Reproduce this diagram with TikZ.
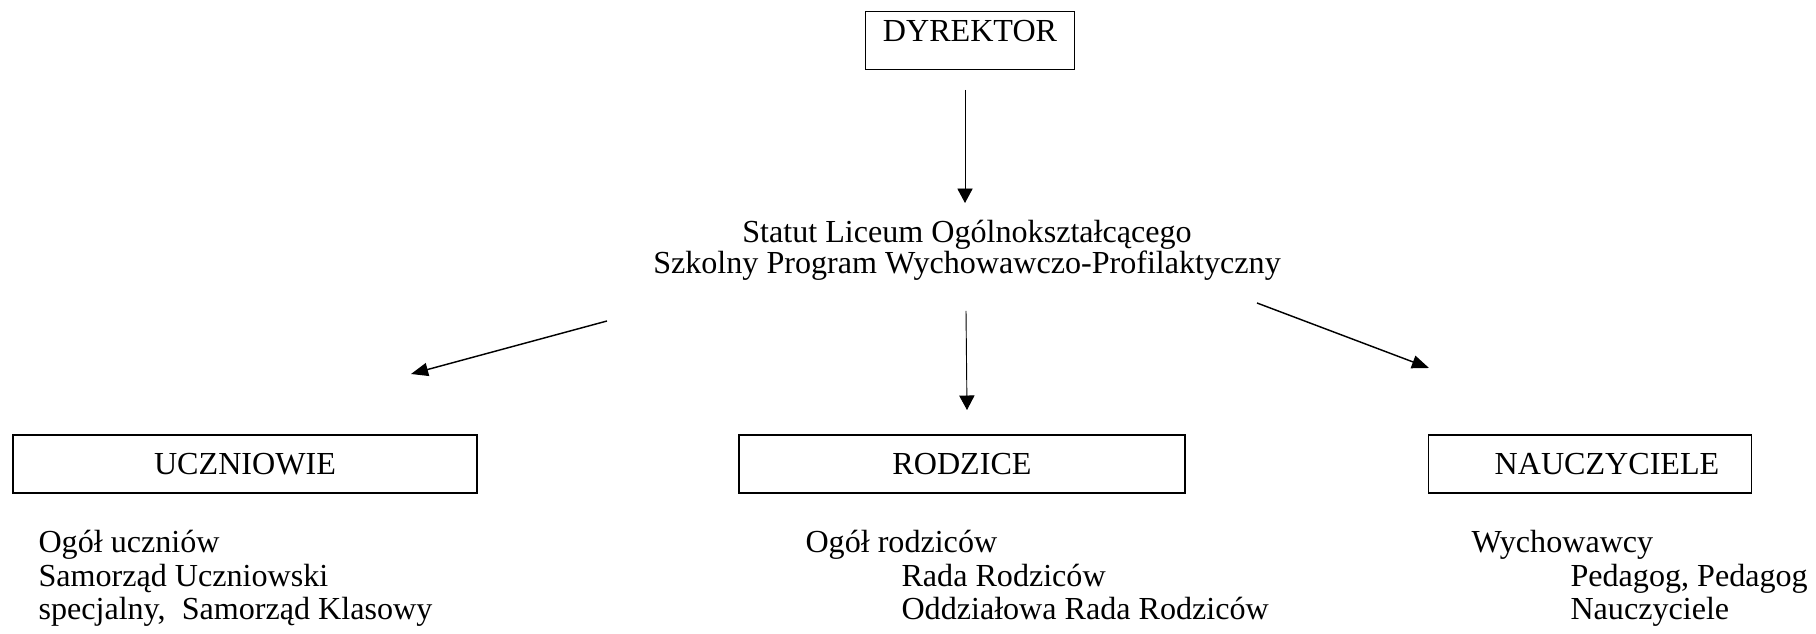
\documentclass[tikz,border=0pt]{standalone}
\usepackage{fontspec}
\setmainfont{Liberation Serif}
\usetikzlibrary{arrows.meta}
\begin{document}
\begin{tikzpicture}[x=0.38pt,y=-0.38pt,
  every node/.style={font=\fontsize{12.2}{12}\selectfont, inner sep=0pt},
  box/.style={draw, line width=0.5pt, minimum height=22pt},
  listline/.style={anchor=base west},
  arr/.style={-{Triangle[length=6.5pt,width=5pt]}, line width=0.55pt},
  thinarr/.style={-{Triangle[length=5.5pt,width=5.8pt]}, line width=0.35pt}]
\useasboundingbox (0,0) rectangle (1816,634);
% boxes
\node[box, anchor=base, minimum width=79.4pt, text height=11.4pt, text depth=10.3pt] (dyr) at (970,42) {DYREKTOR};
\node[box, minimum width=176.3pt] (ucz) at (245,464) {UCZNIOWIE};
\node[box, minimum width=169.5pt] (rodz) at (962,464) {RODZICE};
\node[box, minimum width=122.7pt] (naucz) at (1590,464) {\hspace*{12.9pt}NAUCZYCIELE};
% central text
\node[anchor=base] (stat1) at (967,243) {Statut Liceum Ogólnokształcącego};
\node[anchor=base] (stat2) at (967,274) {Szkolny Program Wychowawczo-Profilaktyczny};
% lists
\node[listline] (u1) at (38,553) {Ogół uczniów};
\node[listline] (u2) at (38,586) {Samorząd Uczniowski};
\node[listline] (u3) at (38,619) {specjalny,\ \ Samorząd Klasowy};
\node[listline] (r1) at (805,553) {Ogół rodziców};
\node[listline] (r2) at (901,586) {Rada Rodziców};
\node[listline] (r3) at (901,619) {Oddziałowa Rada Rodziców};
\node[listline] (n1) at (1471,553) {Wychowawcy};
\node[listline] (n2) at (1570,586) {Pedagog, Pedagog};
\node[listline] (n3) at (1570,619) {Nauczyciele};
% arrow end points
\coordinate (a1s) at (965,90);  \coordinate (a1e) at (965,203);
\coordinate (a2s) at (607,321); \coordinate (a2e) at (411,374);
\coordinate (a3s) at (966,311); \coordinate (a3e) at (967,410);
\coordinate (a4s) at (1257,303); \coordinate (a4e) at (1429,368);
\draw[thinarr] (a1s) -- (a1e);
\draw[arr] (a2s) -- (a2e);
\draw[thinarr] (a3s) -- (a3e);
\draw[arr] (a4s) -- (a4e);
\end{tikzpicture}
\end{document}
